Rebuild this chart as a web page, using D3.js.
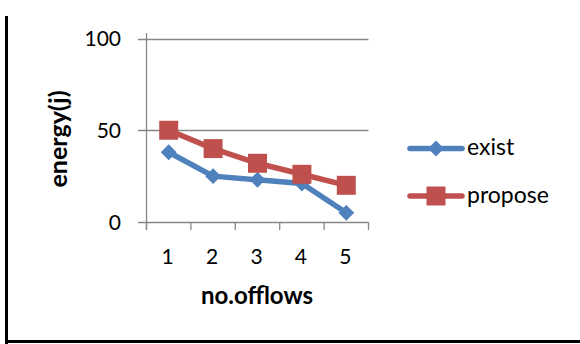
<!DOCTYPE html>
<html><head><meta charset="utf-8">
<script src="https://cdn.jsdelivr.net/npm/d3@7"></script>
<style>body{margin:0;background:#fff}svg{display:block}</style>
</head><body>
<svg id="c" width="580" height="344"></svg>
<script>
const categories = ["1","2","3","4","5"];
const seriesNames = ["exist","propose"];
const existValues = [38, 25, 23, 21, 5];
const proposeValues = [50, 40, 32, 26, 20];
const yTicks = [0, 50, 100];

const svg = d3.select("#c");
const font = "Lato, 'Open Sans', sans-serif";
const colors = {exist:"#4F81BD", propose:"#C0504D"};

// frame (left and bottom border)
svg.append("rect").attr("x",5).attr("y",16).attr("width",3).attr("height",328).attr("fill","#000");
svg.append("rect").attr("x",5).attr("y",340).attr("width",575).attr("height",3).attr("fill","#000");

const x = d3.scaleBand().domain(categories).range([146.5, 368.5]);
const y = d3.scaleLinear().domain([0,100]).range([222, 38.5]);
const grid = "#878787";

// gridlines
svg.append("g").selectAll("line").data(yTicks).join("line")
  .attr("x1",138).attr("x2",368.5).attr("y1",d=>Math.round(y(d))+0.5).attr("y2",d=>Math.round(y(d))+0.5)
  .attr("stroke",grid).attr("stroke-width",1.3);
// y axis
svg.append("line").attr("x1",146.5).attr("x2",146.5).attr("y1",33).attr("y2",230).attr("stroke",grid).attr("stroke-width",1.3);
// x ticks
const bounds = categories.map(c=>x(c)).concat([x.range()[1]]);
svg.append("g").selectAll("line").data(bounds).join("line")
  .attr("x1",d=>d).attr("x2",d=>d).attr("y1",222).attr("y2",230).attr("stroke",grid).attr("stroke-width",1.3);

// y tick labels
svg.append("g").selectAll("text").data(yTicks).join("text")
  .attr("x",121).attr("y",d=>y(d)+7.5).attr("text-anchor","end")
  .attr("font-family",font).attr("font-size",21).attr("fill","#000").text(d=>d);
// x tick labels
svg.append("g").selectAll("text").data(categories).join("text")
  .attr("x",d=>x(d)+x.bandwidth()/2-1).attr("y",264).attr("text-anchor","middle")
  .attr("font-family",font).attr("font-size",21).attr("fill","#000").text(d=>d);

// axis titles
svg.append("text").attr("x",257).attr("y",304).attr("text-anchor","middle")
  .attr("font-family",font).attr("font-size",24).attr("font-weight","bold").text("no.offlows");
svg.append("text").attr("transform","translate(67,139) rotate(-90)").attr("text-anchor","middle")
  .attr("font-family",font).attr("font-size",25).attr("font-weight","bold").text("energy(j)");

const line = d3.line().x((d,i)=>x(categories[i])+x.bandwidth()/2).y(d=>y(d));
const data = {exist: existValues, propose: proposeValues};
const diamond = d3.symbol().type(d3.symbolDiamond2).size(160);
const square = d3.symbol().type(d3.symbolSquare).size(360);

seriesNames.forEach(name=>{
  const vals = data[name];
  svg.append("path").datum(vals).attr("d",line).attr("fill","none")
    .attr("stroke",colors[name]).attr("stroke-width",5.5).attr("stroke-linejoin","round").attr("stroke-linecap","round");
  svg.append("g").selectAll("path").data(vals).join("path")
    .attr("transform",(d,i)=>`translate(${x(categories[i])+x.bandwidth()/2},${y(d)})`)
    .attr("d", name==="exist" ? diamond() : square())
    .attr("fill",colors[name]);
});

// legend
const ly = {exist:148.5, propose:196};
seriesNames.forEach(name=>{
  const g = svg.append("g");
  g.append("line").attr("x1",410).attr("x2",462).attr("y1",ly[name]).attr("y2",ly[name])
    .attr("stroke",colors[name]).attr("stroke-width",5.5).attr("stroke-linecap","round");
  g.append("path").attr("transform",`translate(436,${ly[name]})`)
    .attr("d", name==="exist" ? diamond() : square()).attr("fill",colors[name]);
  g.append("text").attr("x",467).attr("y",ly[name]+6.5).attr("font-family",font).attr("font-size",23).text(name);
});
</script>
</body></html>
